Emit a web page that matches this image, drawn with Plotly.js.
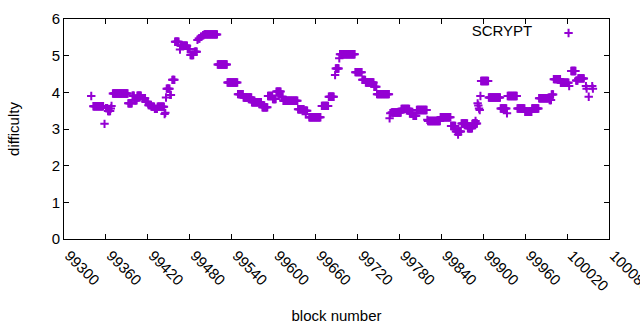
<!DOCTYPE html>
<html>
<head>
<meta charset="utf-8">
<script src="https://cdn.plot.ly/plotly-3.0.1.min.js"></script>
<style>html,body{margin:0;padding:0;background:#fff;}#chart{width:640px;height:330px;}</style>
</head>
<body>
<div id="chart"></div>
<script>
// Runs of constant difficulty: first block, last block, difficulty
var runStart = [99339,99342,99358,99360,99363,99367,99368,99370,99392,99398,99401,99405,99412,99417,99421,99425,99430,99434,99444,99445,99446,99447,99452,99455,99459,99466,99467,99477,99481,99487,99491,99493,99496,99499,99501,99520,99534,99549,99557,99569,99584,99592,99599,99604,99611,99614,99635,99644,99646,99651,99669,99679,99688,99689,99694,99695,99717,99727,99732,99744,99748,99766,99767,99769,99783,99795,99800,99805,99820,99821,99839,99854,99861,99864,99869,99878,99885,99889,99892,99893,99894,99895,99896,99897,99908,99925,99934,99935,99949,99960,99970,99980,99995,99998,100001,100011,100023,100026,100033,100036,100047,100048,100051,100056,100057];
var runEnd   = [99339,99356,99358,99362,99366,99367,99368,99391,99397,99400,99404,99410,99416,99420,99424,99429,99433,99443,99444,99445,99446,99451,99453,99458,99464,99466,99476,99480,99485,99490,99491,99494,99497,99500,99519,99533,99548,99556,99568,99582,99591,99598,99603,99610,99613,99634,99643,99648,99646,99667,99678,99686,99688,99693,99694,99716,99726,99731,99743,99747,99765,99766,99767,99782,99794,99799,99804,99819,99820,99838,99853,99860,99868,99864,99877,99884,99891,99889,99892,99893,99894,99895,99896,99907,99924,99933,99934,99948,99959,99969,99979,99994,99997,100000,100010,100022,100023,100032,100035,100044,100047,100048,100051,100056,100057];
var runValue = [3.90,3.62,3.14,3.57,3.49,3.56,3.63,3.97,3.70,3.91,3.78,3.91,3.84,3.74,3.65,3.61,3.55,3.61,3.41,3.44,3.86,4.10,3.93,4.34,5.38,5.17,5.27,5.18,5.02,5.11,5.43,5.47,5.52,5.56,5.58,4.76,4.27,3.95,3.86,3.73,3.59,3.90,3.82,4.02,3.88,3.77,3.54,3.50,3.40,3.32,3.63,3.88,4.47,4.65,4.93,5.04,4.55,4.34,4.27,4.15,3.95,3.29,3.43,3.45,3.55,3.42,3.36,3.52,3.25,3.22,3.32,3.08,2.93,2.85,3.15,3.02,3.15,3.22,3.70,3.64,3.56,3.52,3.90,4.31,3.86,3.56,3.43,3.90,3.56,3.47,3.56,3.84,3.79,3.94,4.36,4.26,4.17,4.58,4.32,4.38,4.17,4.10,3.88,4.17,4.10];
var xTickValues = [99300,99360,99420,99480,99540,99600,99660,99720,99780,99840,99900,99960,100020,100080];
var seriesName = "SCRYPT";
var xTitle = "block number";
var yTitle = "difficulty";

// one point per block inside each constant run
var xs = [], ys = [];
for (var i = 0; i < runStart.length; i++) {
  for (var b = runStart[i]; b <= runEnd[i]; b++) { xs.push(b); ys.push(runValue[i]); }
}

var purple = "#9400D3";
var trace = {
  x: xs, y: ys, type: "scatter", mode: "markers", name: " ",
  marker: {symbol: "cross-thin", size: 6, color: purple, line: {color: purple, width: 2}},
  cliponaxis: false
};

var axisCommon = {
  showline: true, linecolor: "#000", linewidth: 1, mirror: "allticks",
  ticks: "inside", ticklen: 5, tickcolor: "#000", tickwidth: 1,
  showgrid: false, zeroline: false
};

var layout = {
  width: 640, height: 330,
  margin: {l: 64, r: 31, t: 19, b: 91},
  paper_bgcolor: "#fff", plot_bgcolor: "#fff",
  font: {family: "Liberation Sans, Arial, sans-serif", size: 15, color: "#000"},
  showlegend: true,
  legend: {
    x: 0.981, y: 1.01, xanchor: "right", yanchor: "top",
    bgcolor: "rgba(0,0,0,0)", borderwidth: 0,
    title: {text: seriesName + "\u00a0\u00a0", side: "left", font: {size: 15}},
    font: {size: 15}
  },
  xaxis: Object.assign({}, axisCommon, {
    range: [99300, 100080.01], tickmode: "array",
    tickvals: xTickValues, ticktext: xTickValues.map(String),
    tickangle: 45, tickfont: {size: 15},
    ticklabeloverflow: "allow", ticklabelshift: 5, ticklabelstandoff: 1,
    title: {text: xTitle, font: {size: 15}, standoff: 17}
  }),
  yaxis: Object.assign({}, axisCommon, {
    range: [0, 6], tickmode: "linear", tick0: 0, dtick: 1,
    tickfont: {size: 15},
    title: {text: yTitle, font: {size: 15}, standoff: 28}
  })
};

Plotly.newPlot("chart", [trace], layout, {staticPlot: true, displayModeBar: false});
</script>
</body>
</html>
